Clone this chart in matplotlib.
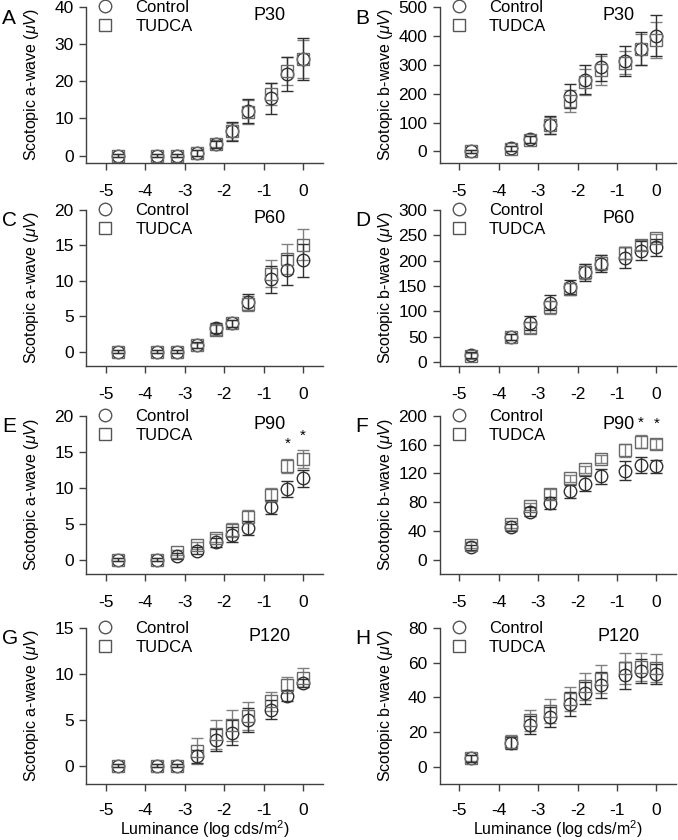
import matplotlib
matplotlib.use('Agg')
import matplotlib.pyplot as plt

plt.rcParams['font.family'] = ['Liberation Sans', 'DejaVu Sans']
plt.rcParams['mathtext.fontset'] = 'custom'
plt.rcParams['mathtext.rm'] = 'Liberation Sans'
plt.rcParams['mathtext.it'] = 'Liberation Sans:italic'
plt.rcParams['axes.unicode_minus'] = False

# luminance (log cd s/m^2)
lum = [-4.7, -3.7, -3.2, -2.7, -2.2, -1.8, -1.4, -0.8, -0.4, 0.0]

# A: a-wave P30
a30_ctrl = [0, 0, 0, 0.8, 3.0, 6.5, 12.0, 15.4, 22.0, 26.0]
a30_ctrl_err = [0.3, 0.3, 0.3, 0.8, 1.0, 2.6, 3.3, 4.2, 4.5, 5.6]
a30_tud = [0, 0, 0, 0.8, 3.2, 6.5, 11.8, 16.5, 22.8, 26.0]
a30_tud_err = [0.3, 0.3, 0.3, 0.8, 1.0, 2.4, 3.2, 3.0, 3.8, 5.0]

# B: b-wave P30
b30_ctrl = [0, 11, 42, 91, 192, 249, 291, 313, 356, 401]
b30_ctrl_err = [5, 8, 12, 30, 40, 50, 48, 52, 58, 70]
b30_tud = [0, 10, 40, 90, 175, 240, 281, 307, 353, 385]
b30_tud_err = [5, 8, 12, 28, 38, 45, 50, 40, 55, 62]

# C: a-wave P60
a60_ctrl = [0, 0, 0, 0.95, 3.3, 4.0, 7.0, 10.2, 11.5, 12.9]
a60_ctrl_err = [0.2, 0.2, 0.2, 0.4, 0.7, 0.5, 1.1, 1.9, 2.1, 2.3]
a60_tud = [0, 0, 0, 0.9, 3.1, 4.0, 6.8, 11.0, 13.1, 15.1]
a60_tud_err = [0.2, 0.2, 0.2, 0.4, 0.7, 0.5, 1.1, 1.9, 2.1, 2.2]

# D: b-wave P60
b60_ctrl = [13, 50, 77, 117, 148, 177, 194, 206, 220, 226]
b60_ctrl_err = [6, 6, 13, 15, 14, 17, 17, 20, 18, 17]
b60_tud = [12, 50, 68, 108, 144, 178, 196, 215, 231, 244]
b60_tud_err = [6, 6, 10, 13, 12, 15, 15, 12, 10, 8]

# E: a-wave P90
a90_ctrl = [0, 0, 0.5, 1.25, 2.4, 3.5, 4.4, 7.3, 9.8, 11.3]
a90_ctrl_err = [0.2, 0.2, 0.4, 0.5, 0.6, 1.0, 1.0, 1.0, 1.1, 1.2]
a90_tud = [0, 0, 1.0, 2.0, 3.0, 4.1, 6.0, 9.0, 13.0, 14.0]
a90_tud_err = [0.2, 0.2, 0.4, 0.5, 0.6, 1.0, 0.9, 1.0, 1.0, 1.3]

# F: b-wave P90
b90_ctrl = [17, 45, 67, 79, 95, 106, 116, 124, 132, 130]
b90_ctrl_err = [4, 5, 6, 8, 9, 10, 10, 13, 11, 9]
b90_tud = [20, 49, 74, 92, 113, 126, 140, 152, 164, 161]
b90_tud_err = [4, 5, 5, 7, 5, 5, 6, 9, 9, 7]

# G: a-wave P120
a120_ctrl = [0, 0, 0, 1.0, 2.8, 3.6, 5.0, 6.1, 7.6, 9.0]
a120_ctrl_err = [0.2, 0.2, 0.2, 0.7, 1.2, 1.4, 1.3, 1.0, 0.6, 0.4]
a120_tud = [0, 0, 0, 1.6, 3.4, 4.4, 5.4, 7.0, 8.8, 9.6]
a120_tud_err = [0.2, 0.2, 0.2, 1.4, 1.6, 1.7, 1.5, 1.0, 0.9, 1.0]

# H: b-wave P120
b120_ctrl = [4.8, 13.8, 24, 28.7, 36.3, 42.6, 47.2, 52.6, 55, 53.5]
b120_ctrl_err = [2, 3.5, 5, 6, 7, 6.5, 7.6, 8, 7, 6]
b120_tud = [5, 14.5, 26.8, 32, 39.2, 46.3, 50.7, 56.8, 57.4, 56.8]
b120_tud_err = [2, 3.5, 6, 7, 7, 8, 8, 9, 8, 8]

panels = [
    ('A', 'a', 'P30', a30_ctrl, a30_ctrl_err, a30_tud, a30_tud_err, [0, 10, 20, 30, 40], -2, []),
    ('B', 'b', 'P30', b30_ctrl, b30_ctrl_err, b30_tud, b30_tud_err, [0, 100, 200, 300, 400, 500], -40, []),
    ('C', 'a', 'P60', a60_ctrl, a60_ctrl_err, a60_tud, a60_tud_err, [0, 5, 10, 15, 20], -2, []),
    ('D', 'b', 'P60', b60_ctrl, b60_ctrl_err, b60_tud, b60_tud_err, [0, 50, 100, 150, 200, 250, 300], -8, []),
    ('E', 'a', 'P90', a90_ctrl, a90_ctrl_err, a90_tud, a90_tud_err, [0, 5, 10, 15, 20], -2, [(-0.4, 16.2), (0.0, 17.2)]),
    ('F', 'b', 'P90', b90_ctrl, b90_ctrl_err, b90_tud, b90_tud_err, [0, 40, 80, 120, 160, 200], -20, [(-0.4, 190), (0.0, 189)]),
    ('G', 'a', 'P120', a120_ctrl, a120_ctrl_err, a120_tud, a120_tud_err, [0, 5, 10, 15], -2, []),
    ('H', 'b', 'P120', b120_ctrl, b120_ctrl_err, b120_tud, b120_tud_err, [0, 20, 40, 60, 80], -10, []),
]

W, H = 678, 840
fig = plt.figure(figsize=(W / 100, H / 100), dpi=100)

col_left = [86.3, 439.7]
ax_w = 236.4
rows = [(7, 163), (210, 366), (416, 574), (628, 784)]
age_x = [-0.85, -0.97]

for i, (letter, wave, age, c, ce, t, te, yticks, ymin, stars) in enumerate(panels):
    r, col = divmod(i, 2)
    top, bot = rows[r]
    ax = fig.add_axes([col_left[col] / W, 1 - bot / H, ax_w / W, (bot - top) / H])

    ax.errorbar(lum, t, yerr=te, fmt='none', ecolor='#808080', elinewidth=1, capsize=4, capthick=1)
    ax.errorbar(lum, c, yerr=ce, fmt='none', ecolor='#303030', elinewidth=1, capsize=4, capthick=1)
    ax.plot(lum, c, 'o', ms=9, mfc='none', mec='#303030', mew=1, label='Control')
    ax.plot(lum, t, 's', ms=8, mfc='none', mec='#6a6a6a', mew=1, label='TUDCA')

    for sx, sy in stars:
        ax.text(sx, sy, '*', ha='center', va='center', fontsize=11)

    ax.set_xlim(-5.5, 0.5)
    ax.set_ylim(ymin, yticks[-1])
    ax.set_xticks([-5, -4, -3, -2, -1, 0])
    ax.set_yticks(yticks)
    ax.spines['top'].set_visible(False)
    ax.spines['right'].set_visible(False)
    for s in ('left', 'bottom'):
        ax.spines[s].set_color('#404040')
        ax.spines[s].set_linewidth(1)
    ax.tick_params(direction='out', length=5, width=1, color='#404040', labelsize=12.5)
    ax.tick_params(axis='y', pad=4)
    ax.tick_params(axis='x', pad=10 if r < 3 else 8.5)
    ax.set_ylabel('Scotopic %s-wave ($\\mu V$)' % wave, fontsize=11.5)
    ax.yaxis.set_label_coords(-0.19, 0.5)
    if r == 3:
        ax.set_xlabel('Luminance (log cds/m$^2$)', fontsize=11.5)
        ax.xaxis.set_label_coords(0.5, -0.222)

    ax.text(age_x[col], yticks[-1], age, ha='center', va='top', fontsize=13)

    leg = ax.legend(loc='upper left', bbox_to_anchor=(0.045, 1.045), frameon=False,
                    fontsize=12, handlelength=1.0, handletextpad=1.3, labelspacing=0.25,
                    borderaxespad=0, borderpad=0)
    for h in leg.legend_handles:
        h.set_markeredgecolor('#555555')

    fig.text((col_left[col] - 84) / W, 1 - (top + 11) / H, letter, fontsize=15, ha='left', va='center')

fig.savefig('out.png', dpi=100)
